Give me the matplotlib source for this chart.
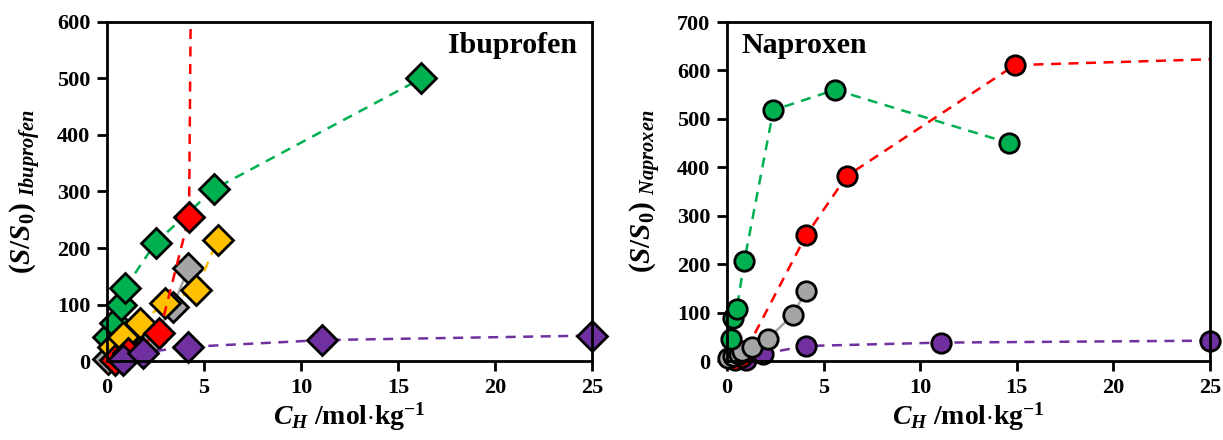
import numpy as np
import matplotlib
matplotlib.use("Agg")
import matplotlib.pyplot as plt

plt.rcParams['font.family'] = ['Liberation Serif', 'DejaVu Serif']
plt.rcParams['font.weight'] = 'bold'
plt.rcParams['mathtext.fontset'] = 'custom'
plt.rcParams['mathtext.rm'] = 'Liberation Serif:bold'
plt.rcParams['mathtext.it'] = 'Liberation Serif:bold:italic'
plt.rcParams['mathtext.bf'] = 'Liberation Serif:bold'

# Ibuprofen (left panel)
ibu_green_x = [0.05, 0.4, 0.7, 0.93, 2.5, 5.5, 16.2]
ibu_green_y = [42, 67, 99, 129, 209, 304, 500]
ibu_gray_x = [0.05, 1.0, 2.2, 3.4, 4.2]
ibu_gray_y = [3, 10, 34, 96, 165]
ibu_yellow_x = [0.3, 0.8, 1.7, 3.0, 4.6, 5.7]
ibu_yellow_y = [25, 43, 67, 103, 126, 214]
ibu_red_x = [0.4, 1.1, 2.7, 4.23, 4.45]
ibu_red_y = [2, 14, 49, 255, 1200]
ibu_purple_x = [0.8, 1.85, 4.2, 11.1, 25]
ibu_purple_y = [2, 15, 25, 37, 45]

# Naproxen (right panel)
nap_green_x = [0.2, 0.3, 0.5, 0.9, 2.4, 5.6, 14.6]
nap_green_y = [45, 88, 107, 207, 518, 560, 450]
nap_red_x = [0.4, 0.8, 4.1, 6.2, 14.9, 25]
nap_red_y = [3, 8, 260, 382, 611, 623]
nap_gray_x = [0.05, 0.3, 0.6, 0.8, 1.3, 2.1, 3.4, 4.1]
nap_gray_y = [6, 10, 14, 21, 29, 45, 95, 145]
nap_purple_x = [1.0, 1.85, 4.1, 11.1, 25]
nap_purple_y = [2, 15, 31, 38, 42]

GREEN = '#00B050'
RED = '#FF0000'
YELLOW = '#FFC000'
GRAY = '#A5A5A5'
PURPLE = '#7030A0'

fig = plt.figure(figsize=(12.23, 4.4), dpi=100)
ax1 = fig.add_axes([107/1223, 79/440, 485/1223, 339/440])
ax2 = fig.add_axes([727/1223, 79/440, 483/1223, 339/440])


def series(ax, x, y, color, marker, ms, z, ls='--'):
    ax.plot(x, y, ls=ls, color=color, lw=1.8, dashes=(4, 3) if ls == '--' else (None, None),
            marker=marker, ms=ms, mfc=color, mec='black', mew=2,
            zorder=z, clip_on=False)


# left
series(ax1, ibu_gray_x, ibu_gray_y, GRAY, 'D', 15, 3, ls='-')
series(ax1, ibu_green_x, ibu_green_y, GREEN, 'D', 15, 4)
series(ax1, ibu_yellow_x, ibu_yellow_y, YELLOW, 'D', 15, 5)
ax1.plot(ibu_red_x, ibu_red_y, ls='--', dashes=(4, 3), color=RED, lw=1.8, zorder=6)
ax1.plot(ibu_red_x[:-1], ibu_red_y[:-1], ls='none', marker='D', ms=15, mfc=RED,
         mec='black', mew=2, zorder=6, clip_on=False)
series(ax1, ibu_purple_x, ibu_purple_y, PURPLE, 'D', 15, 7)

# right
series(ax2, nap_purple_x, nap_purple_y, PURPLE, 'o', 14, 3)
ax2.plot(nap_red_x, nap_red_y, ls='--', dashes=(4, 3), color=RED, lw=1.8, zorder=4, clip_on=False)
ax2.plot(nap_red_x[:-1], nap_red_y[:-1], ls='none', marker='o', ms=14, mfc=RED,
         mec='black', mew=2, zorder=4, clip_on=False)
series(ax2, nap_gray_x, nap_gray_y, GRAY, 'o', 14, 5, ls='-')
series(ax2, nap_green_x, nap_green_y, GREEN, 'o', 14, 6)

for ax, ymax in [(ax1, 600), (ax2, 700)]:
    ax.set_xlim(0, 25)
    ax.set_ylim(0, ymax)
    ax.set_xticks(np.arange(0, 26, 5))
    ax.set_yticks(np.arange(0, ymax + 1, 100))
    for s in ax.spines.values():
        s.set_linewidth(2)
        s.set_zorder(10)
    ax.tick_params(direction='out', length=7, width=2, labelsize=16, pad=5)
    for lab in ax.get_xticklabels() + ax.get_yticklabels():
        lab.set_fontweight('bold')
    ax.set_xlabel(r'$C_H$ /mol$\cdot$kg$^{\mathbf{-1}}$', fontsize=20, fontweight='bold', labelpad=2)

ax1.set_ylabel(r'$(S/S_0)\ _{Ibuprofen}$', fontsize=21, labelpad=10)
ax2.set_ylabel(r'$(S/S_0)\ _{Naproxen}$', fontsize=21, labelpad=10)

ax1.text(0.97, 0.93, 'Ibuprofen', transform=ax1.transAxes, ha='right', va='center',
         fontsize=21.5, fontweight='bold')
ax2.text(0.03, 0.93, 'Naproxen', transform=ax2.transAxes, ha='left', va='center',
         fontsize=21.5, fontweight='bold')

fig.savefig('out.png', dpi=100)
